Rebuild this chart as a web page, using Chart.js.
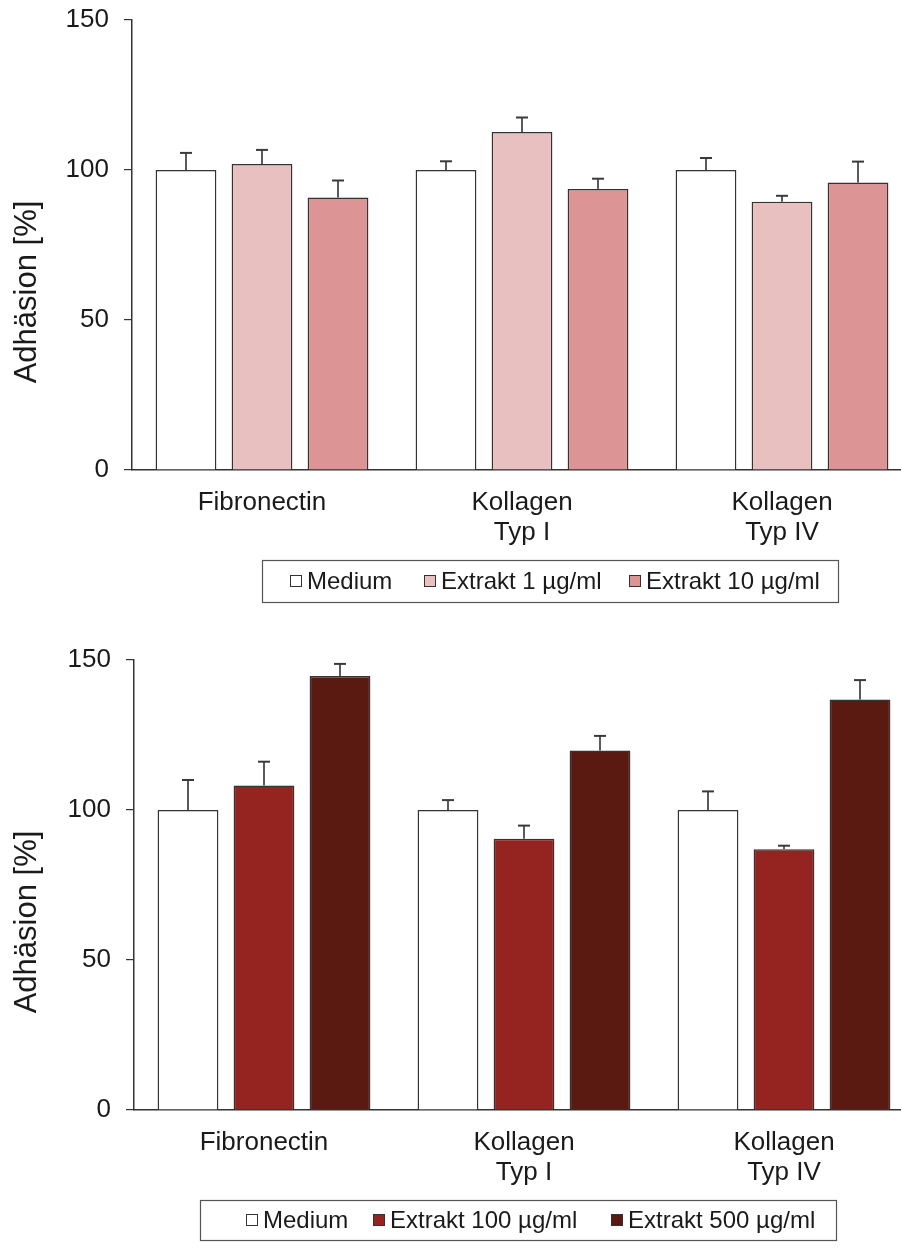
<!DOCTYPE html>
<html>
<head>
<meta charset="utf-8">
<title>Adhäsion</title>
<script src="https://cdn.jsdelivr.net/npm/chart.js@4.4.1/dist/chart.umd.min.js"></script>
<style>
  html, body { margin: 0; padding: 0; background: #fff; overflow: hidden; width: 901px; height: 1248px; }
  .panel { position: absolute; width: 920px; height: 620px; }
  #panelTop { left: 0; top: 0; }
  #panelBottom { left: 2px; top: 640px; }
</style>
</head>
<body>
<div class="panel" id="panelTop"><canvas id="chartTop" width="920" height="620"></canvas></div>
<div class="panel" id="panelBottom"><canvas id="chartBottom" width="920" height="620"></canvas></div>
<script>
// Substrates (x categories)
const categories = [['Fibronectin'], ['Kollagen', 'Typ I'], ['Kollagen', 'Typ IV']];
const yTicks = [0, 50, 100, 150];
const yTitle = 'Adhäsion [%]';

// Upper panel: low extract concentrations
const mediumA = [100, 100, 100];
const mediumAErr = [5.7, 2.9, 4.0];
const extrakt1 = [102.0, 112.7, 89.4];
const extrakt1Err = [4.7, 4.8, 2.0];
const extrakt10 = [90.8, 93.7, 95.8];
const extrakt10Err = [5.7, 3.4, 7.0];

// Lower panel: high extract concentrations
const mediumB = [100, 100, 100];
const mediumBErr = [10.0, 3.3, 6.2];
const extrakt100 = [108.2, 90.4, 86.9];
const extrakt100Err = [7.9, 4.4, 1.2];
const extrakt500 = [144.7, 119.8, 136.8];
const extrakt500Err = [4.0, 4.9, 6.5];

const FONT = '"Liberation Sans", Arial, Helvetica, sans-serif';
const TEXT = '#1a1a1a';

// Upward error whiskers with a cap, read from dataset.errors
const errorBars = {
  id: 'errorBars',
  afterDatasetsDraw(chart) {
    const ctx = chart.ctx;
    const yScale = chart.scales.y;
    chart.data.datasets.forEach((ds, di) => {
      const meta = chart.getDatasetMeta(di);
      meta.data.forEach((bar, i) => {
        const top = yScale.getPixelForValue(ds.data[i] + ds.errors[i]);
        ctx.save();
        ctx.strokeStyle = '#5a5a5a';
        ctx.lineWidth = 2;
        ctx.beginPath();
        ctx.moveTo(bar.x, bar.y);
        ctx.lineTo(bar.x, top);
        ctx.stroke();
        ctx.strokeStyle = '#3a3a3a';
        ctx.beginPath();
        ctx.moveTo(bar.x - 6, top);
        ctx.lineTo(bar.x + 6, top);
        ctx.stroke();
        ctx.restore();
      });
    });
  }
};

// Rotated y-axis title
const sideTitle = {
  id: 'sideTitle',
  afterDraw(chart, args, opts) {
    const ctx = chart.ctx;
    ctx.save();
    ctx.translate(opts.x, opts.y);
    ctx.rotate(-Math.PI / 2);
    ctx.font = '31px ' + FONT;
    ctx.fillStyle = TEXT;
    ctx.textAlign = 'center';
    ctx.textBaseline = 'middle';
    ctx.fillText(opts.text, 0, 0);
    ctx.restore();
  }
};

// Framed legend below the axis
const boxLegend = {
  id: 'boxLegend',
  afterDraw(chart, args, opts) {
    const ctx = chart.ctx;
    const f = opts.frame;
    ctx.save();
    ctx.strokeStyle = '#555';
    ctx.lineWidth = 1.2;
    ctx.strokeRect(f.x + 0.5, f.y + 0.5, f.w, f.h);
    const cy = f.y + f.h / 2;
    ctx.font = '24px ' + FONT;
    ctx.textBaseline = 'middle';
    ctx.textAlign = 'left';
    chart.data.datasets.forEach((ds, i) => {
      const x = opts.itemX[i];
      ctx.fillStyle = ds.backgroundColor;
      ctx.fillRect(x, cy - 6, 12, 12);
      ctx.strokeStyle = '#333';
      ctx.lineWidth = 1;
      ctx.strokeRect(x + 0.5, cy - 5.5, 11, 11);
      ctx.fillStyle = TEXT;
      ctx.fillText(ds.label, x + 17, cy + 1);
    });
    ctx.restore();
  }
};

function makeDataset(label, data, errors, color) {
  return {
    label: label,
    data: data,
    errors: errors,
    backgroundColor: color,
    borderColor: '#333333',
    borderWidth: 1.5,
    borderSkipped: 'bottom',
    barPercentage: 0.8,
    categoryPercentage: 0.877
  };
}

function makeChart(canvasId, datasets, titlePos, legendOpts) {
  return new Chart(document.getElementById(canvasId), {
    type: 'bar',
    data: { labels: categories, datasets: datasets },
    options: {
      responsive: false,
      animation: false,
      devicePixelRatio: 1,
      layout: { padding: { left: 0, top: 20, right: 8, bottom: 0 } },
      plugins: {
        legend: { display: false },
        title: { display: false },
        tooltip: { enabled: false },
        sideTitle: { text: yTitle, x: titlePos.x, y: titlePos.y },
        boxLegend: legendOpts
      },
      scales: {
        x: {
          type: 'category',
          offset: true,
          grid: { display: false, drawOnChartArea: false, drawTicks: false },
          border: { display: true, color: '#333', width: 1.5 },
          ticks: {
            color: TEXT,
            font: { family: FONT, size: 26, lineHeight: 1.15 },
            padding: 18,
            maxRotation: 0,
            autoSkip: false
          },
          afterFit(scale) {
            scale.height = 150;
            scale.paddingLeft = 0; scale.paddingRight = 0;
            scale.paddingTop = 0; scale.paddingBottom = 0;
          }
        },
        y: {
          min: 0,
          max: 150,
          afterBuildTicks(scale) { scale.ticks = yTicks.map(v => ({ value: v })); },
          grid: { drawOnChartArea: false, drawTicks: true, tickLength: 8, color: '#333', lineWidth: 1.2 },
          border: { display: true, color: '#333', width: 1.5 },
          ticks: {
            color: TEXT,
            font: { family: FONT, size: 26 },
            padding: 15
          },
          afterFit(scale) {
            scale.width = 132;
            scale.paddingLeft = 0; scale.paddingRight = 0;
            scale.paddingTop = 0; scale.paddingBottom = 0;
          }
        }
      }
    },
    plugins: [errorBars, sideTitle, boxLegend]
  });
}

makeChart('chartTop', [
  makeDataset('Medium', mediumA, mediumAErr, '#ffffff'),
  makeDataset('Extrakt 1 µg/ml', extrakt1, extrakt1Err, '#e8c0bf'),
  makeDataset('Extrakt 10 µg/ml', extrakt10, extrakt10Err, '#dc9594')
], { x: 27, y: 292 }, {
  frame: { x: 262, y: 560, w: 576, h: 42 },
  itemX: [290, 424, 629]
});

makeChart('chartBottom', [
  makeDataset('Medium', mediumB, mediumBErr, '#ffffff'),
  makeDataset('Extrakt 100 µg/ml', extrakt100, extrakt100Err, '#952421'),
  makeDataset('Extrakt 500 µg/ml', extrakt500, extrakt500Err, '#5a1a12')
], { x: 25, y: 282 }, {
  frame: { x: 198, y: 560, w: 636, h: 40 },
  itemX: [244, 371, 609]
});
</script>
</body>
</html>
